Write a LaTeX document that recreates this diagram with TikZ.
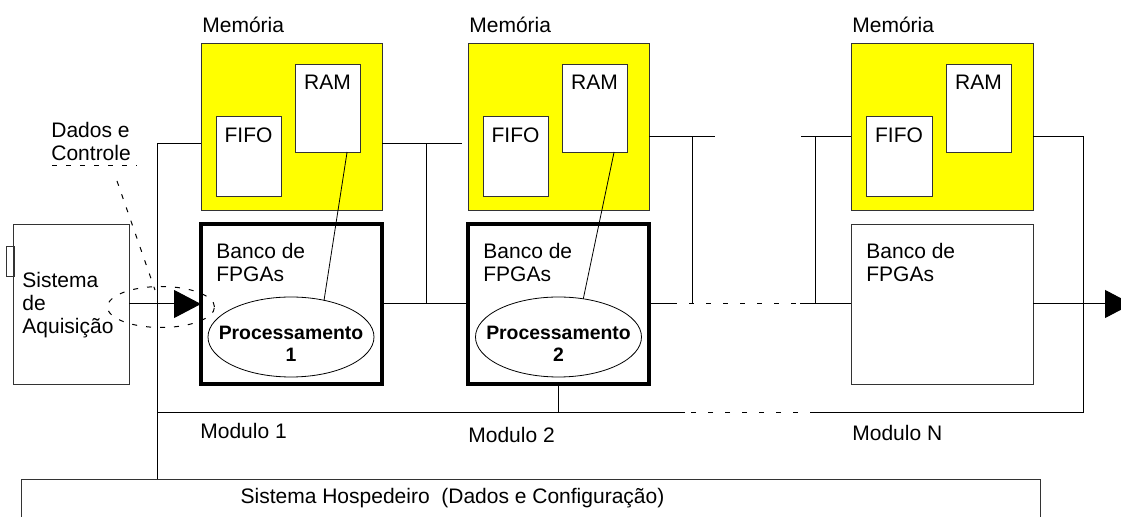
\documentclass[tikz,border=0pt]{standalone}
\usepackage{fontspec}
\setmainfont{Liberation Sans}
\usetikzlibrary{positioning,arrows.meta,shapes.geometric}
\definecolor{memyellow}{RGB}{255,255,0}

\begin{document}
\begin{tikzpicture}[x=0.5pt, y=-0.5pt,
    txt/.style={inner sep=0, font=\fontsize{10.5}{11.5}\selectfont, align=left},
    boldtxt/.style={inner sep=0, font=\fontsize{9.7}{11}\selectfont\bfseries, align=center},
    membox/.style={draw=black!80, fill=memyellow, minimum width=90.5pt, minimum height=83.5pt, anchor=north west, inner sep=0, outer sep=0},
    cell/.style={draw=black!80, fill=white, minimum width=32.5pt, anchor=north west, inner sep=0, outer sep=0},
    fpga/.style={draw, line width=1.6pt, minimum width=90.5pt, minimum height=80pt, anchor=north west, inner sep=0, outer sep=0},
    proc/.style={draw, ellipse, minimum width=83pt, minimum height=40pt, inner sep=0, outer sep=0},
    plainbox/.style={draw=black!80, anchor=north west, inner sep=0, outer sep=0},
    wire/.style={line width=0.5pt},
    gap/.style={line width=0.5pt, dash pattern=on 2.5pt off 6pt},
    loose/.style={line width=0.5pt, dash pattern=on 2.5pt off 4.5pt},
    bigtip/.style={-{Triangle[length=13.5pt, width=14pt]}}]
    \clip (0,0) rectangle (1121,517);

    % Sistema de Aquisicao
    \node[plainbox, minimum width=58pt, minimum height=80pt] (aq) at (13,224) {};
    \node[plainbox, minimum width=4pt, minimum height=15pt] (aqtab) at (6,246) {};
    \node[txt, anchor=north west] (aqlbl) at (22,272) {Sistema\\de\\Aquisição};

    % Dados e Controle
    \node[txt, anchor=north west] (ctrl) at (51,122) {Dados e\\Controle};
    \coordinate (ctrlA) at (52,166);
    \coordinate (ctrlB) at (137,166);
    \coordinate (ctrlC) at (117,181);
    \coordinate (ctrlD) at (155,290);
    \draw[loose] (ctrlA) -- (ctrlB);
    \draw[loose] (ctrlC) -- (ctrlD);
    \draw[loose] (161,307) ellipse [x radius=26.75pt, y radius=10.25pt];

    % Modulo 1
    \node[membox] (mem1) at (201,43) {};
    \node[txt, above right=5pt and 0.5pt of mem1.north west] (memlbl1) {Memória};
    \node[cell, minimum height=40pt] (fifo1) at (216,116) {};
    \node[txt, below=5.5pt of fifo1.north] (fifolbl1) {FIFO};
    \node[cell, minimum height=44pt] (ram1) at (295,64) {};
    \node[txt, below=5.5pt of ram1.north] (ramlbl1) {RAM};
    \node[fpga] (fpga1) at (201,224) {};
    \node[txt, below right=9.5pt and 7.5pt of fpga1.north west] (bancolbl1) {Banco de\\FPGAs};
    \node[proc] (proc1) at (291,337) {};
    \node[boldtxt] (proclbl1) at ([yshift=-3.5pt]proc1.center) {Processamento\\1};

    % Modulo 2
    \node[membox] (mem2) at (468,43) {};
    \node[txt, above right=5pt and 0.5pt of mem2.north west] (memlbl2) {Memória};
    \node[cell, minimum height=40pt] (fifo2) at (483,116) {};
    \node[txt, below=5.5pt of fifo2.north] (fifolbl2) {FIFO};
    \node[cell, minimum height=44pt] (ram2) at (562,64) {};
    \node[txt, below=5.5pt of ram2.north] (ramlbl2) {RAM};
    \node[fpga] (fpga2) at (468,224) {};
    \node[txt, below right=9.5pt and 7.5pt of fpga2.north west] (bancolbl2) {Banco de\\FPGAs};
    \node[proc] (proc2) at (558.5,337) {};
    \node[boldtxt] (proclbl2) at ([yshift=-3.5pt]proc2.center) {Processamento\\2};

    % Modulo N
    \node[membox, minimum width=91pt] (memN) at (851,43) {};
    \node[txt, above right=5pt and 0.5pt of memN.north west] (memlblN) {Memória};
    \node[cell, minimum width=33pt, minimum height=40pt] (fifoN) at (866,116) {};
    \node[txt, below=5.5pt of fifoN.north] (fifolblN) {FIFO};
    \node[cell, minimum height=44pt] (ramN) at (946,64) {};
    \node[txt, below=5.5pt of ramN.north] (ramlblN) {RAM};
    \node[plainbox, minimum width=91pt, minimum height=80pt] (fpgaN) at (851,224) {};
    \node[txt, below right=9.5pt and 7.5pt of fpgaN.north west] (bancolblN) {Banco de\\FPGAs};

    % Sistema Hospedeiro
    \node[plainbox, minimum width=509.5pt, minimum height=25pt] (host) at (21,479) {};
    \node[txt] (hostlbl) at (452.5,498) {Sistema Hospedeiro\ \ (Dados e Configuração)};

    \node[txt, anchor=west] (mod1) at (200,431) {Modulo 1};
    \node[txt, anchor=west] (mod2) at (468,435) {Modulo 2};
    \node[txt, anchor=west] (modN) at (852,433) {Modulo N};

    % Connections
    \coordinate (hostjoin) at (157,144);
    \coordinate (m1end) at (462,144);
    \coordinate (m1tap) at (426,144);
    \coordinate (m2end) at (715,137);
    \coordinate (m2tap) at (692,137);
    \coordinate (gapA) at (672,304);
    \coordinate (gapB) at (800,304);
    \coordinate (mNstart) at (801,137);
    \coordinate (mNtap) at (815,137);
    \coordinate (loopR) at (1083,137);
    \coordinate (busR) at (1083,413);
    \coordinate (busA) at (815,413);
    \coordinate (busB) at (685,413);
    \coordinate (busL) at (157,413);
    \coordinate (out) at (1132,304);

    \draw[wire] (hostjoin |- host.north) -- (hostjoin) -- (mem1.west |- hostjoin);
    \draw[wire] (mem1.east |- m1end) -- (m1end);
    \draw[wire] (m1tap) -- (m1tap |- fpga1.east);
    \draw[wire] (fpga1) -- (fpga2);
    \draw[wire] (mem2.east |- m2end) -- (m2end);
    \draw[wire] (m2tap) -- (m2tap |- fpga2.east);
    \draw[wire] (fpga2.east) -- (gapA);
    \draw[gap] (gapA) -- (gapB);
    \draw[wire] (gapB) -- (fpgaN.west);
    \draw[wire] (mNstart) -- (memN.west |- mNstart);
    \draw[wire] (mNtap) -- (mNtap |- fpgaN.west);
    \draw[wire] (memN.east |- loopR) -- (loopR) -- (busR) -- (busA);
    \draw[gap] (busA) -- (busB);
    \draw[wire] (busB) -- (busL);
    \draw[wire] (fpga2.south) -- (fpga2.south |- busL);
    \draw[line width=0.4pt] (ram1.-66) -- (proc1.48);
    \draw[line width=0.4pt] (ram2.-66) -- (proc2.57);

    \draw[wire, bigtip] (aq) -- (fpga1);
    \draw[wire, bigtip] (fpgaN) -- (out);
\end{tikzpicture}
\end{document}
